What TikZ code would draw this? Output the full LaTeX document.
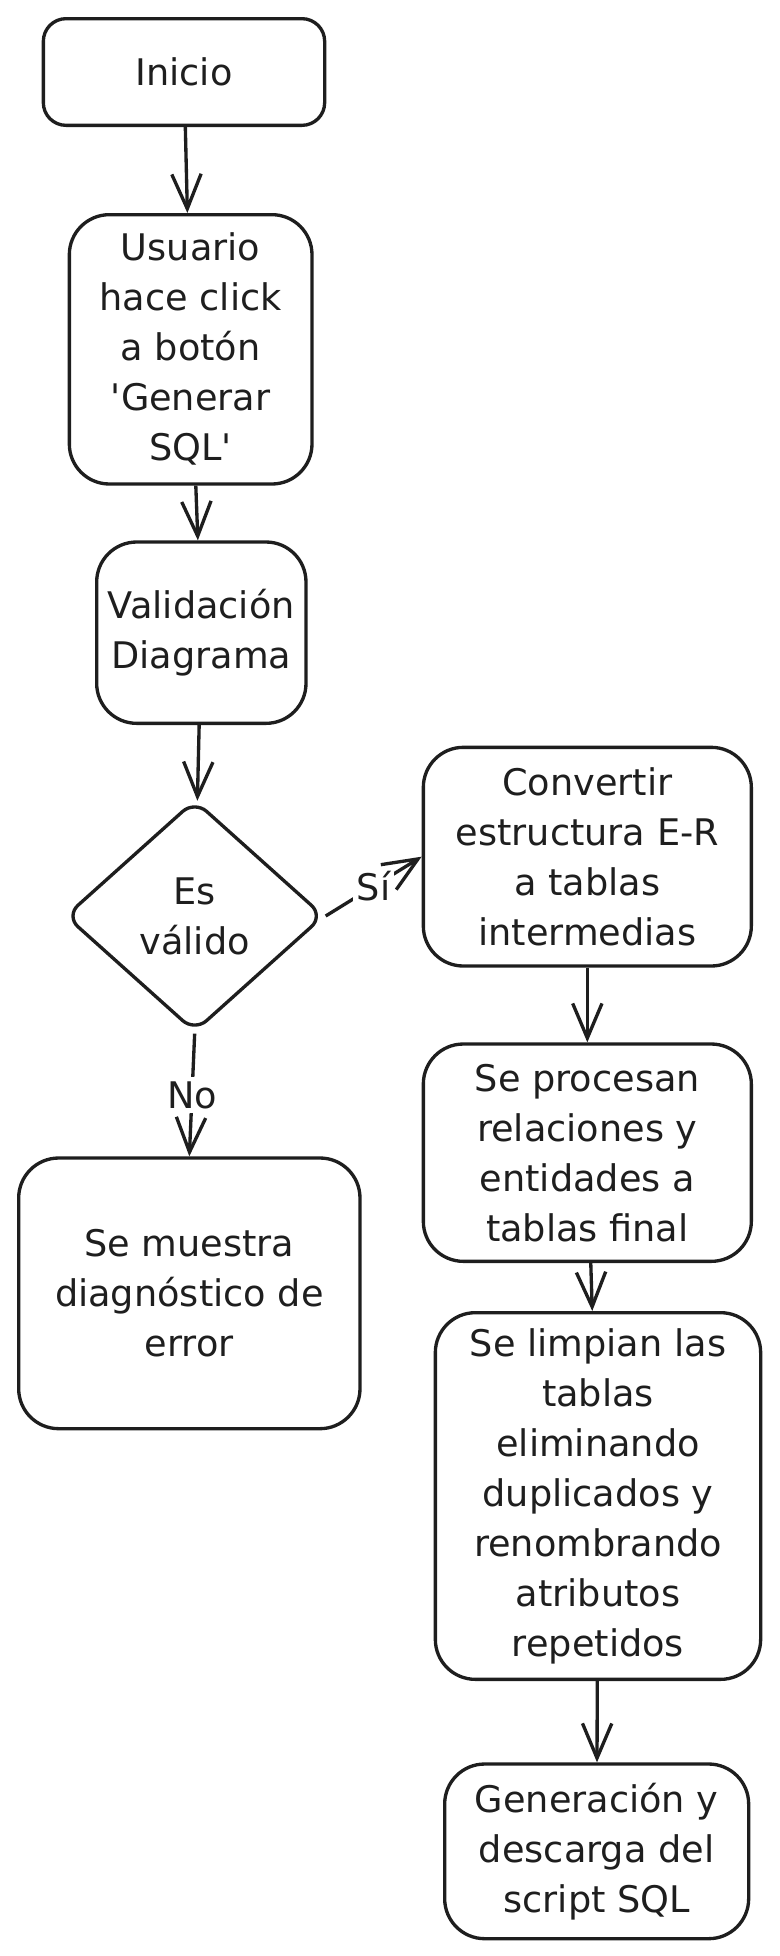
\documentclass[tikz,border=0pt]{standalone}
\usepackage{fontspec}
\setmainfont{DejaVu Sans}
\usetikzlibrary{arrows.meta,positioning,shapes.geometric}
\definecolor{ink}{HTML}{1E1E1E}

\tikzset{
  stepbox/.style={draw, line width=2.5pt, rounded corners=30pt, align=center, inner sep=2pt, font=\fontsize{27.5}{37.5}\selectfont},
  decision/.style={stepbox, diamond, rounded corners=12pt},
  flowlabel/.style={fill=white, inner sep=3pt, font=\fontsize{27.5}{37.5}\selectfont},
}

\begin{document}
\begin{tikzpicture}[->,>={Straight Barb[length=26pt,width=22pt]}, line width=2.5pt, line join=round, color=ink]
	\useasboundingbox (0,0) rectangle (584.25pt,-1467pt);

	\node[stepbox, rounded corners=17pt, minimum width=211pt, minimum height=80pt] (inicio) at (138pt,-54pt) {Inicio};
	\node[stepbox, minimum width=182pt, minimum height=202pt] (usuario) [below=64.5pt of inicio, xshift=5pt] {Usuario\\hace click\\a botón\\\textquotesingle Generar\\SQL\textquotesingle};
	\node[stepbox, minimum width=157pt, minimum height=136pt] (check) [below=41pt of usuario, xshift=8pt] {Validación\\Diagrama};
	\node[decision, minimum width=194pt, minimum height=174pt] (valid) [below=55pt of check, xshift=-5pt] {Es\\válido};
	\node[stepbox, minimum width=256pt, minimum height=203pt] (error) [below=92pt of valid, xshift=-4pt] {Se muestra\\diagnóstico de\\error};
	\node[stepbox, minimum width=246pt, minimum height=164pt] (convert) [right=72pt of valid, yshift=44.5pt] {Convertir\\estructura E-R\\a tablas\\intermedias};
	\node[stepbox, minimum width=246pt, minimum height=163pt] (process) [below=56pt of convert] {Se procesan\\relaciones y\\entidades a\\tablas final};
	\node[stepbox, minimum width=244pt, minimum height=275pt] (clean) [below=36pt of process, xshift=8pt] {Se limpian las\\tablas\\eliminando\\duplicados y\\renombrando\\atributos\\repetidos};
	\node[stepbox, minimum width=228pt, minimum height=131pt] (script) [below=61pt of clean, xshift=-1pt] {Generación y\\descarga del\\script SQL};

	\path (inicio) edge (usuario);
	\path (usuario) edge (check);
	\path (check) edge (valid);
	\path (valid.east) edge node[flowlabel] {Sí} (convert.west);
	\path (valid.south) edge node[flowlabel] {No} (error.north);
	\path (convert) edge (process);
	\path (process) edge (clean);
	\path (clean) edge (script);
\end{tikzpicture}
\end{document}
